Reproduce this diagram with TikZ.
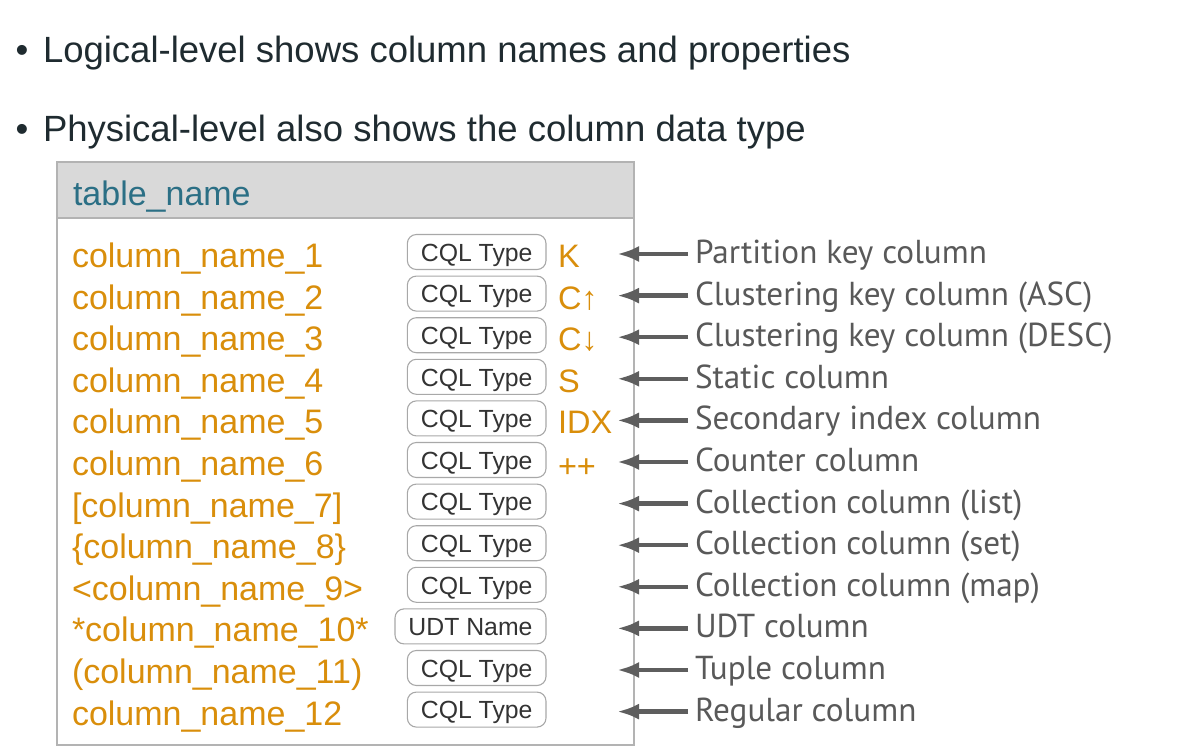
\documentclass[tikz,border=0pt]{standalone}
\usepackage{fontspec}
\setmainfont{Liberation Sans}
\newfontfamily\labelfont{PT Sans}
\usepackage{tikz}
\usetikzlibrary{arrows.meta}
\usepackage{xcolor}

\definecolor{textdark}{HTML}{1F2B30}
\definecolor{colorange}{HTML}{D98E0B}
\definecolor{tealname}{HTML}{2B6F85}
\definecolor{headgray}{HTML}{D9D9D9}
\definecolor{bordergray}{HTML}{B3B3B3}
\definecolor{boxgray}{HTML}{A8A8A8}
\definecolor{typetext}{HTML}{333333}
\definecolor{arrowgray}{HTML}{5E5E5E}
\definecolor{labelgray}{HTML}{595959}

\begin{document}
\begin{tikzpicture}[x=1pt, y=-1pt,
    every node/.style={inner sep=0pt, outer sep=0pt},
    bullettext/.style={anchor=base west, text=textdark, font=\fontsize{36.5}{40}\selectfont},
    colname/.style={anchor=base west, text=colorange, font=\fontsize{34}{36}\selectfont},
    flag/.style={anchor=base west, text=colorange, font=\fontsize{32.5}{34}\selectfont},
    typebox/.style={draw=boxgray, line width=1.1pt, rounded corners=9pt, anchor=east,
        minimum height=35pt, inner xsep=13.5pt, text height=18.4pt, text depth=0pt,
        text=typetext, font=\fontsize{24.8}{26}\selectfont},
    desc/.style={anchor=base west, inner xsep=7pt, text=labelgray, font=\labelfont\fontsize{33.2}{34}\selectfont},
    pointer/.style={draw=arrowgray, line width=4.4pt, -{Latex[length=22pt, width=16pt]}}]
    \useasboundingbox (0,0) rectangle (1183,751);

    % Bullets
    \node[bullettext, anchor=base] (bul1) at (22, 63) {•};
    \node[bullettext] (item1) at (43, 63) {Logical-level shows column names and properties};
    \node[bullettext, anchor=base] (bul2) at (22, 142) {•};
    \node[bullettext] (item2) at (43, 142) {Physical-level also shows the column data type};

    % Table
    \fill[headgray] (57,162) rectangle (634,218);
    \draw[bordergray, line width=2pt] (57,218) -- (634,218);
    \draw[bordergray, line width=2pt] (57,162) rectangle (634,745);
    \node[anchor=base west, text=tealname, font=\fontsize{34}{36}\selectfont] (title) at (73, 205.5) {table\_name};

    % Column names
    \node[colname] (col1) at (72, 267.5) {column\_name\_1};
    \node[colname] (col2) at (72, 309.1) {column\_name\_2};
    \node[colname] (col3) at (72, 350.7) {column\_name\_3};
    \node[colname] (col4) at (72, 392.3) {column\_name\_4};
    \node[colname] (col5) at (72, 433.9) {column\_name\_5};
    \node[colname] (col6) at (72, 475.5) {column\_name\_6};
    \node[colname] (col7) at (72, 517.1) {[column\_name\_7]};
    \node[colname] (col8) at (72, 558.7) {\{column\_name\_8\}};
    \node[colname] (col9) at (72, 600.3) {<column\_name\_9>};
    \node[colname] (col10) at (72, 641.9) {*column\_name\_10*};
    \node[colname] (col11) at (72, 683.5) {(column\_name\_11)};
    \node[colname] (col12) at (72, 725.1) {column\_name\_12};

    % Data types
    \node[typebox] (type1) at (546, 252) {CQL Type};
    \node[typebox] (type2) at (546, 293.6) {CQL Type};
    \node[typebox] (type3) at (546, 335.2) {CQL Type};
    \node[typebox] (type4) at (546, 376.8) {CQL Type};
    \node[typebox] (type5) at (546, 418.4) {CQL Type};
    \node[typebox] (type6) at (546, 460) {CQL Type};
    \node[typebox] (type7) at (546, 501.6) {CQL Type};
    \node[typebox] (type8) at (546, 543.2) {CQL Type};
    \node[typebox] (type9) at (546, 584.8) {CQL Type};
    \node[typebox] (type10) at (546, 626.4) {UDT Name};
    \node[typebox] (type11) at (546, 668) {CQL Type};
    \node[typebox] (type12) at (546, 709.6) {CQL Type};

    % Flags
    \node[flag] (flag1) at (558, 267.5) {K};
    \node[flag] (flag2) at (558, 309.1) {C↑};
    \node[flag] (flag3) at (558, 350.7) {C↓};
    \node[flag] (flag4) at (558, 392.3) {S};
    \node[flag] (flag5) at (558, 433.9) {IDX};
    \node[flag] (flag6) at (558, 477.5) {++};

    % Legend
    \node[desc] (desc1) at (688, 263.5) {Partition key column};
    \node[desc] (desc2) at (688, 305.1) {Clustering key column (ASC)};
    \node[desc] (desc3) at (688, 346.7) {Clustering key column (DESC)};
    \node[desc] (desc4) at (688, 388.3) {Static column};
    \node[desc] (desc5) at (688, 429.9) {Secondary index column};
    \node[desc] (desc6) at (688, 471.5) {Counter column};
    \node[desc] (desc7) at (688, 513.1) {Collection column (list)};
    \node[desc] (desc8) at (688, 554.7) {Collection column (set)};
    \node[desc] (desc9) at (688, 596.3) {Collection column (map)};
    \node[desc] (desc10) at (688, 637.9) {UDT column};
    \node[desc] (desc11) at (688, 679.5) {Tuple column};
    \node[desc] (desc12) at (688, 721.1) {Regular column};

    \coordinate (tip1) at (617, 254);
    \coordinate (tip2) at (617, 295.6);
    \coordinate (tip3) at (617, 337.2);
    \coordinate (tip4) at (617, 378.8);
    \coordinate (tip5) at (617, 420.4);
    \coordinate (tip6) at (617, 462);
    \coordinate (tip7) at (617, 503.6);
    \coordinate (tip8) at (617, 545.2);
    \coordinate (tip9) at (617, 586.8);
    \coordinate (tip10) at (617, 628.4);
    \coordinate (tip11) at (617, 670);
    \coordinate (tip12) at (617, 711.6);

    \draw[pointer] (desc1.west |- tip1) -- (tip1);
    \draw[pointer] (desc2.west |- tip2) -- (tip2);
    \draw[pointer] (desc3.west |- tip3) -- (tip3);
    \draw[pointer] (desc4.west |- tip4) -- (tip4);
    \draw[pointer] (desc5.west |- tip5) -- (tip5);
    \draw[pointer] (desc6.west |- tip6) -- (tip6);
    \draw[pointer] (desc7.west |- tip7) -- (tip7);
    \draw[pointer] (desc8.west |- tip8) -- (tip8);
    \draw[pointer] (desc9.west |- tip9) -- (tip9);
    \draw[pointer] (desc10.west |- tip10) -- (tip10);
    \draw[pointer] (desc11.west |- tip11) -- (tip11);
    \draw[pointer] (desc12.west |- tip12) -- (tip12);

\end{tikzpicture}
\end{document}
